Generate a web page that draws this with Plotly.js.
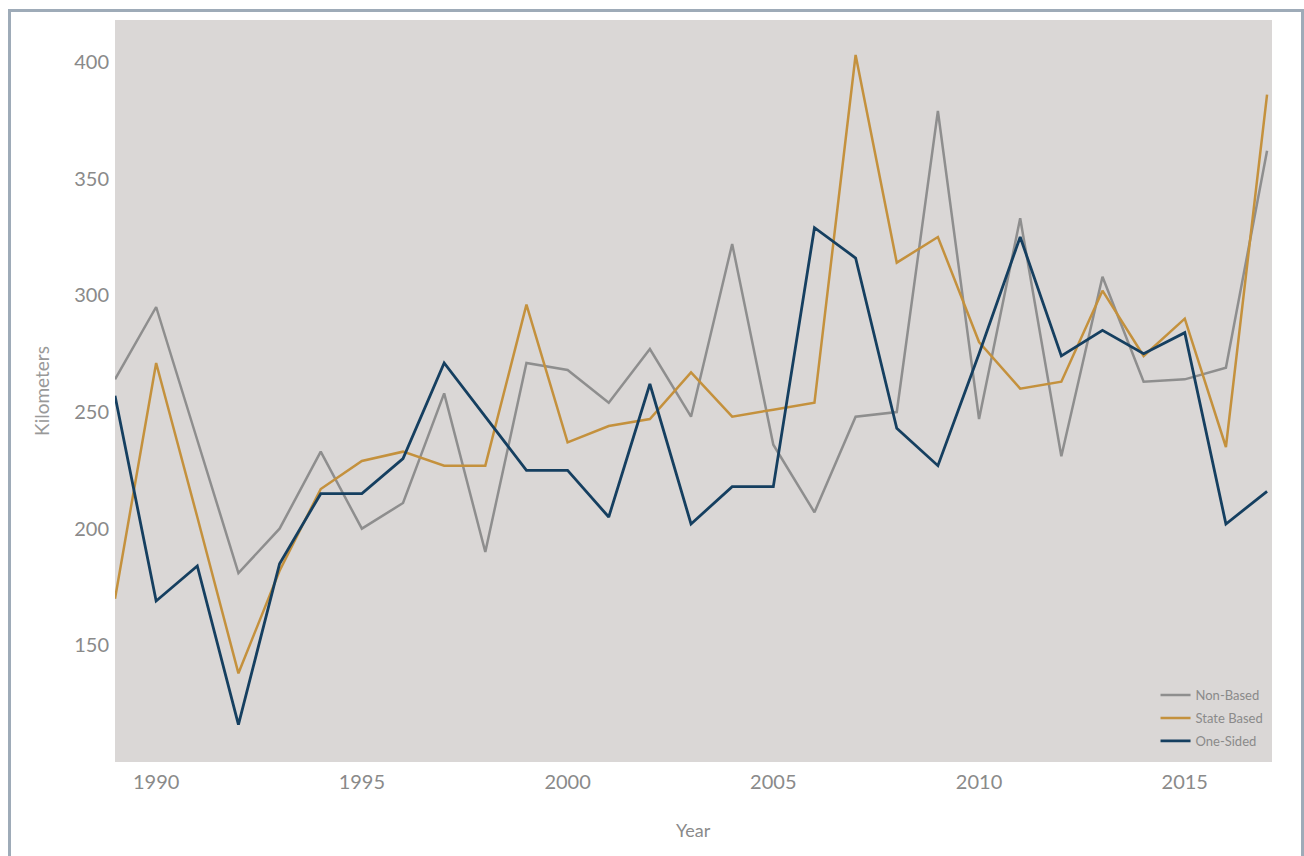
<!DOCTYPE html>
<html>
<head>
<meta charset="utf-8">
<script src="https://cdn.plot.ly/plotly-3.0.1.min.js"></script>
<style>
  html, body { margin: 0; padding: 0; background: #ffffff; overflow: hidden; }
  #chart { position: absolute; left: 0; top: 0; width: 1304px; height: 856px; }
  #frame { position: absolute; left: 8px; top: 9px; width: 1296px; height: 900px;
           border: 3px solid #9eabb8; border-bottom: none; box-sizing: border-box; pointer-events: none; }
</style>
</head>
<body>
<div id="chart"></div>
<div id="frame"></div>
<script>
const years = [1989, 1990, 1991, 1992, 1993, 1994, 1995, 1996, 1997, 1998, 1999, 2000, 2001, 2002,
               2003, 2004, 2005, 2006, 2007, 2008, 2009, 2010, 2011, 2012, 2013, 2014, 2015, 2016, 2017];
const nonBased   = [264, 295, 238, 181, 200, 233, 200, 211, 258, 190, 271, 268, 254, 277,
                    248, 322, 236, 207, 248, 250, 379, 247, 333, 231, 308, 263, 264, 269, 362];
const stateBased = [170, 271, 205, 138, 182, 217, 229, 233, 227, 227, 296, 237, 244, 247,
                    267, 248, 251, 254, 403, 314, 325, 280, 260, 263, 302, 274, 290, 235, 386];
const oneSided   = [257, 169, 184, 116, 185, 215, 215, 230, 271, 248, 225, 225, 205, 262,
                    202, 218, 218, 329, 316, 243, 227, 275, 325, 274, 285, 275, 284, 202, 216];
const seriesNames = ["Non-Based", "State Based", "One-Sided"];
const yTicks = [150, 200, 250, 300, 350, 400];
const xTicks = [1990, 1995, 2000, 2005, 2010, 2015];

const colors = ["#8e8e8e", "#c4913d", "#153f60"];
const widths = [2.5, 2.5, 2.8];
const values = [nonBased, stateBased, oneSided];

const traces = values.map((v, i) => ({
  type: "scatter",
  mode: "lines",
  x: years,
  y: v,
  name: seriesNames[i],
  legendgroup: "g" + i,
  line: { color: colors[i], width: widths[i] },
  cliponaxis: false
}));

const layout = {
  width: 1304,
  height: 856,
  margin: { l: 115, r: 32, t: 20, b: 94 },
  paper_bgcolor: "#ffffff",
  plot_bgcolor: "#dad7d6",
  font: { family: "Lato, 'Open Sans', sans-serif", color: "#8a8a8a" },
  showlegend: true,
  legend: {
    x: 0.997, y: 0.008, xanchor: "right", yanchor: "bottom",
    bgcolor: "rgba(0,0,0,0)",
    font: { size: 13, color: "#8a8a8a" },
    itemwidth: 30,
    tracegroupgap: 3
  },
  xaxis: {
    range: [1989.0, 2017.12],
    tickvals: xTicks,
    ticktext: xTicks.map(String),
    showgrid: false,
    zeroline: false,
    showline: false,
    ticks: "outside",
    ticklen: 2,
    tickcolor: "rgba(0,0,0,0)",
    tickfont: { size: 20, color: "#8a8a8a" },
    automargin: false
  },
  yaxis: {
    range: [100, 418],
    tickvals: yTicks,
    ticktext: yTicks.map(String),
    showgrid: false,
    zeroline: false,
    showline: false,
    ticks: "outside",
    ticklen: 1,
    tickcolor: "rgba(0,0,0,0)",
    tickfont: { size: 20, color: "#8a8a8a" },
    automargin: false
  },
  annotations: [
    {
      text: "Kilometers", xref: "paper", yref: "paper",
      x: -0.064, y: 0.5, xanchor: "center", yanchor: "middle",
      textangle: -90, showarrow: false,
      font: { size: 19, color: "#999999" }
    },
    {
      text: "Year", xref: "paper", yref: "paper",
      x: 0.5, y: -0.0916, xanchor: "center", yanchor: "middle",
      showarrow: false,
      font: { size: 18, color: "#8a8a8a" }
    }
  ]
};

Plotly.newPlot("chart", traces, layout, { displayModeBar: false, staticPlot: true });
</script>
</body>
</html>
